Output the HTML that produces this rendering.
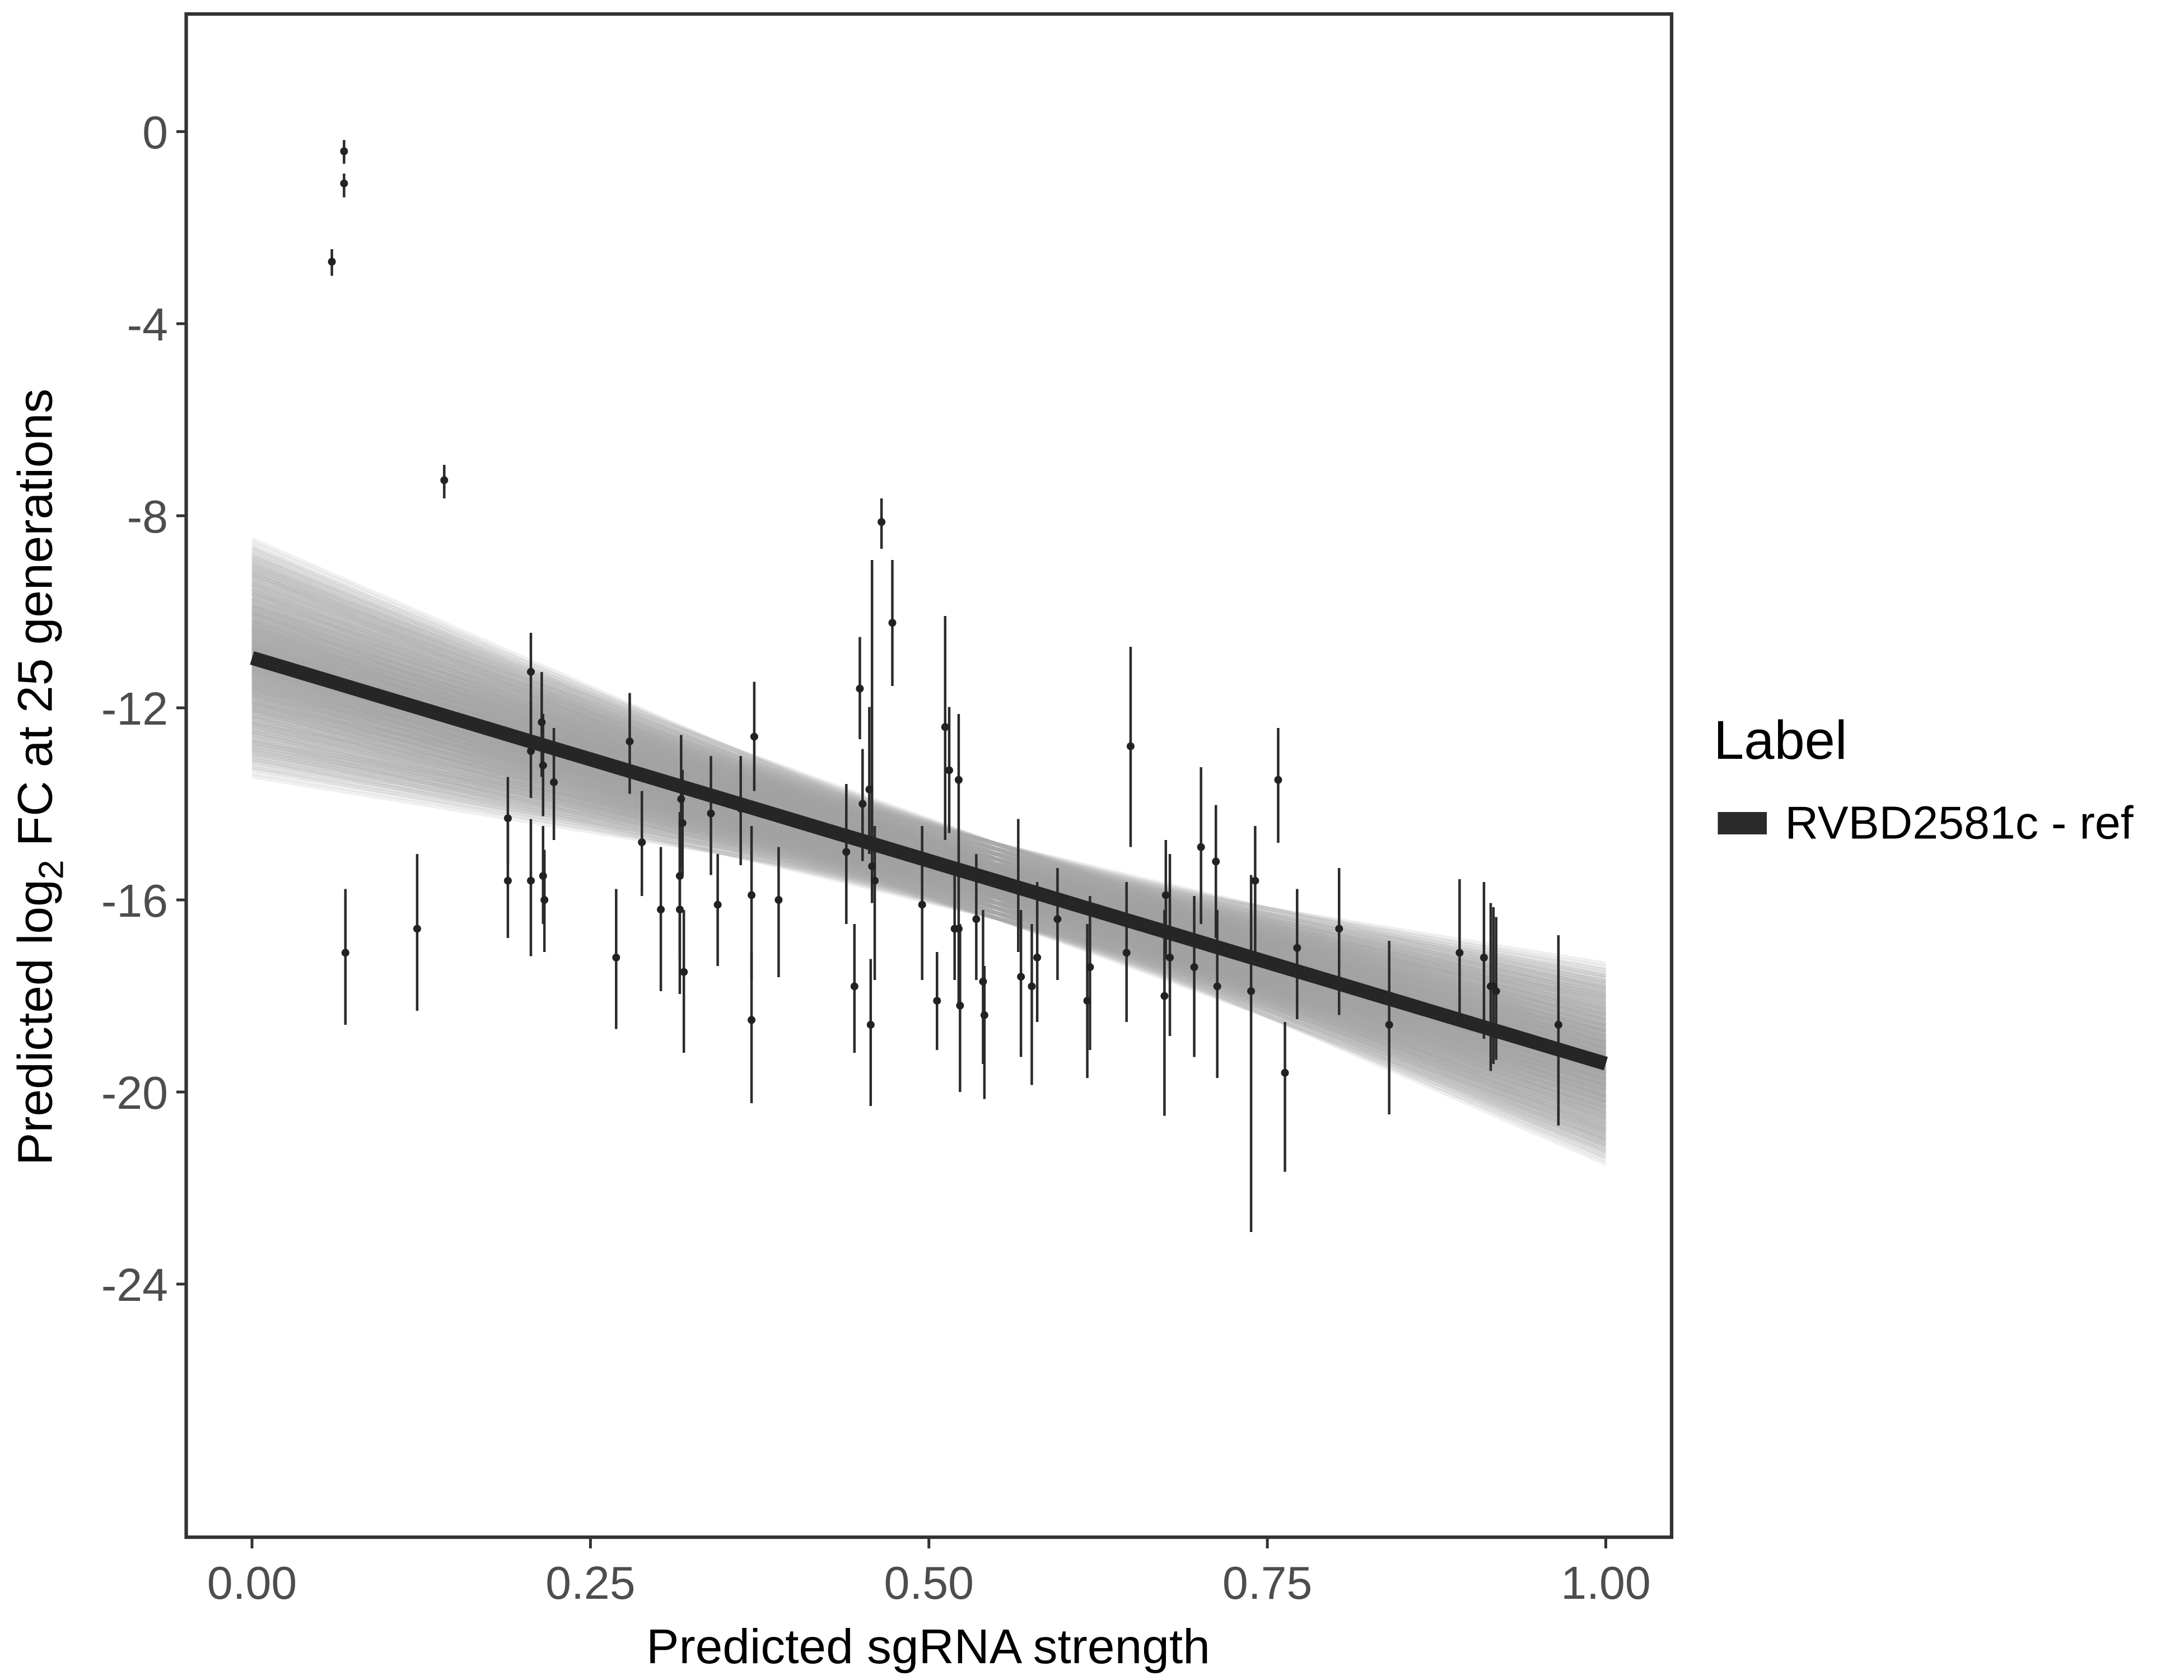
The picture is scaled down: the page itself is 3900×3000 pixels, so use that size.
<!DOCTYPE html>
<html><head><meta charset="utf-8"><style>
html,body{margin:0;padding:0;background:#fff;}
svg{display:block;}
text{font-family:"Liberation Sans",Arial,sans-serif;}
</style></head><body>
<svg id="chart" width="3900" height="3000" viewBox="0 0 1560 1200" xmlns="http://www.w3.org/2000/svg">
<rect x="0" y="0" width="1560" height="1200" fill="#fff"/>
<g id="ribbon"></g>
<g id="bars"></g>
<g id="pts"></g>
<g id="fit"></g>
<rect x="133" y="10" width="1061" height="1088" fill="none" stroke="#333" stroke-width="2.5"/>
<g id="axes"></g>
<text x="663" y="1188" font-size="35" text-anchor="middle" fill="#000">Predicted sgRNA strength</text>
<text transform="translate(37,555) rotate(-90)" font-size="35" text-anchor="middle" fill="#000">Predicted  log<tspan font-size="25" dy="8">2</tspan><tspan dy="-8"> FC at 25 generations</tspan></text>
<text x="1224" y="542" font-size="39" fill="#000">Label</text>
<rect x="1227" y="580" width="35" height="16" fill="#2a2a2a"/>
<text x="1275" y="599" font-size="33" fill="#000">RVBD2581c - ref</text>
</svg>
<script>
const xs=[.059,.068,.068,.142,.069,.122,.189,.189,.206,.206,.206,.214,.215,.215,.216,.223,.269,.279,.288,.302,.316,.316,.317,.318,.319,.339,.344,.361,.369,.369,.371,.389,.439,.445,.449,.451,.456,.457,.458,.460,.465,.473,.495,.506,.512,.515,.519,.522,.522,.523,.535,.540,.541,.566,.568,.576,.580,.595,.617,.619,.646,.649,.674,.675,.678,.696,.701,.712,.713,.738,.741,.758,.763,.772,.803,.840,.892,.910,.915,.917,.919,.965];
const ys=[-2.71,-0.41,-1.08,-7.26,-17.1,-16.6,-14.3,-15.6,-11.25,-15.6,-12.9,-12.3,-13.2,-15.5,-16.0,-13.55,-17.2,-12.7,-14.8,-16.2,-15.5,-16.2,-13.9,-14.4,-17.5,-14.2,-16.1,-14.1,-18.5,-15.9,-12.6,-16.0,-15.0,-17.8,-11.6,-14.0,-13.7,-18.6,-15.3,-15.6,-8.13,-10.23,-16.1,-18.1,-12.4,-13.3,-16.6,-13.5,-16.6,-18.2,-16.4,-17.7,-18.4,-15.7,-17.6,-17.8,-17.2,-16.4,-18.1,-17.4,-17.1,-12.8,-18.0,-15.9,-17.2,-17.4,-14.9,-15.2,-17.8,-17.9,-15.6,-13.5,-19.6,-17.0,-16.6,-18.6,-17.1,-17.2,-17.8,-17.8,-17.9,-18.6];
const tops=[178,100,124,332,635,610,555,588,452,585,500,480,510,590,607,520,635,495,565,605,580,590,525,550,650,540,610,540,680,590,487,605,560,660,455,535,505,685,400,590,356,400,590,680,440,505,620,510,600,660,610,650,690,585,650,660,630,620,660,640,630,462,650,600,610,640,548,575,650,625,590,520,730,635,620,672,628,630,645,648,655,668];
const bots=[197,117,141,356,732,722,617,670,528,683,570,555,583,660,680,600,735,567,640,708,685,710,620,625,752,625,690,618,788,700,565,698,660,752,528,615,610,790,645,700,392,490,700,750,600,595,700,600,720,780,700,760,785,680,755,775,730,700,770,750,730,605,797,685,740,755,660,670,770,880,680,602,837,728,725,796,730,742,765,760,757,804];
const fitIntercept=-10.96, fitSlope=-8.45;
const xTicks=[0,0.25,0.5,0.75,1], xTickLabels=["0.00","0.25","0.50","0.75","1.00"];
const yTicks=[0,-4,-8,-12,-16,-20,-24], yTickLabels=["0","-4","-8","-12","-16","-20","-24"];
const NS="http://www.w3.org/2000/svg";
const X=v=>180+v*967, Y=v=>94-v*34.3, Yinv=p=>-(p-94)/34.3;
function mk(t,a,p){const e=document.createElementNS(NS,t);for(const k in a)e.setAttribute(k,a[k]);p.appendChild(e);return e;}
const rib=document.getElementById('ribbon');
const pivot=0.55, pivY=fitIntercept+fitSlope*pivot;
const qs=[-2.2,-1.9,-1.6,-1.3,-1,-0.8,-0.6,-0.45,-0.3,-0.15,0,0.15,0.3,0.45,0.6,0.8,1,1.3,1.6,1.9,2.2];
for(const a of qs)for(const b of qs){
 if(a*a+b*b>6)continue;
 const c=pivY+a*0.35, s=fitSlope+b*1.75;
 const l=mk('line',{x1:X(0),y1:Y(c-s*pivot),x2:X(1),y2:Y(c+s*(1-pivot)),stroke:'#a0a0a0',"stroke-width":3,"stroke-opacity":0.16},rib);
 
 
}
const bg=document.getElementById('bars'),pg=document.getElementById('pts');
xs.forEach((x,i)=>{
 const l=mk('line',{x1:X(x),x2:X(x),y1:Y(Yinv(tops[i])),y2:Y(Yinv(bots[i])),stroke:'#2b2b2b',"stroke-width":1.8},bg);
 
 
 const c=mk('circle',{cx:X(x),cy:Y(ys[i]),r:2.8,fill:'#222'},pg);
 
 
});
const fl=mk('line',{x1:X(0),y1:Y(fitIntercept),x2:X(1),y2:Y(fitIntercept+fitSlope),stroke:'#262626',"stroke-width":10},document.getElementById('fit'));


const ax=document.getElementById('axes');
xTicks.forEach((v,i)=>{
 const t=mk('line',{x1:X(v),x2:X(v),y1:1099,y2:1106,stroke:'#333',"stroke-width":2},ax);
 
 
 const tx=mk('text',{x:X(v),y:1142,"font-size":33,"text-anchor":"middle",fill:'#4d4d4d'},ax);
 tx.textContent=xTickLabels[i];
 
 
});
yTicks.forEach((v,i)=>{
 const t=mk('line',{x1:126,x2:133,y1:Y(v),y2:Y(v),stroke:'#333',"stroke-width":2},ax);
 
 
 const tx=mk('text',{x:120,y:Y(v)+12,"font-size":33,"text-anchor":"end",fill:'#4d4d4d'},ax);
 tx.textContent=yTickLabels[i];
 
 
});
</script>
</body></html>
